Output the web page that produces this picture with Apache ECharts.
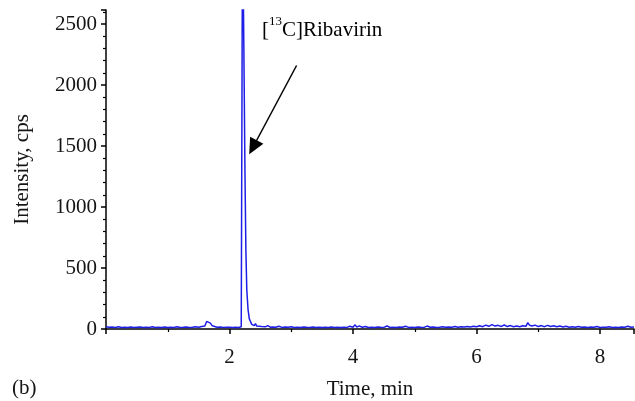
<!DOCTYPE html>
<html>
<head>
<meta charset="utf-8">
<script src="https://cdn.jsdelivr.net/npm/echarts@6/dist/echarts.min.js"></script>
<style>
  html, body { margin: 0; padding: 0; background: #fff; }
  #main { width: 635px; height: 401px; }
</style>
</head>
<body>
<div id="main"></div>
<script>
// retention time (min)
var times = [
  0.00, 0.05, 0.10, 0.15, 0.20, 0.25, 0.30, 0.35, 0.40, 0.45,
  0.50, 0.55, 0.60, 0.65, 0.70, 0.75, 0.80, 0.85, 0.90, 0.95,
  1.00, 1.05, 1.10, 1.15, 1.20, 1.25, 1.30, 1.35, 1.40, 1.45,
  1.50, 1.55, 1.60, 1.63, 1.66, 1.69, 1.72, 1.75, 1.80, 1.85,
  1.90, 1.95, 2.00, 2.05, 2.10, 2.15, 2.18, 2.19, 2.21, 2.225,
  2.235, 2.25, 2.265, 2.28, 2.30, 2.32, 2.34, 2.36, 2.38, 2.40,
  2.42, 2.44, 2.46, 2.48, 2.50, 2.52, 2.55, 2.58, 2.62, 2.66,
  2.70, 2.75, 2.80, 2.85, 2.90, 2.95, 3.00, 3.05, 3.10, 3.15,
  3.20, 3.25, 3.30, 3.35, 3.40, 3.45, 3.50, 3.55, 3.60, 3.65,
  3.70, 3.75, 3.80, 3.85, 3.90, 3.95, 4.00, 4.03, 4.06, 4.10,
  4.15, 4.20, 4.25, 4.30, 4.35, 4.40, 4.45, 4.50, 4.55, 4.60,
  4.65, 4.70, 4.75, 4.80, 4.85, 4.90, 4.95, 5.00, 5.05, 5.10,
  5.15, 5.20, 5.25, 5.30, 5.35, 5.40, 5.45, 5.50, 5.55, 5.60,
  5.65, 5.70, 5.75, 5.80, 5.85, 5.90, 5.95, 6.00, 6.05, 6.10,
  6.15, 6.20, 6.25, 6.30, 6.35, 6.40, 6.45, 6.50, 6.55, 6.60,
  6.65, 6.70, 6.75, 6.80, 6.83, 6.86, 6.90, 6.95, 7.00, 7.05,
  7.10, 7.15, 7.20, 7.25, 7.30, 7.35, 7.40, 7.45, 7.50, 7.55,
  7.60, 7.65, 7.70, 7.75, 7.80, 7.85, 7.90, 7.95, 8.00, 8.05,
  8.10, 8.15, 8.20, 8.25, 8.30, 8.35, 8.40, 8.45, 8.50, 8.55
];

// intensity (cps)
var intensity = [
  18, 14, 16, 13, 18, 12, 15, 13, 17, 12,
  14, 16, 12, 15, 13, 18, 12, 14, 13, 16,
  12, 15, 13, 19, 12, 14, 17, 13, 15, 18,
  14, 20, 24, 62, 68, 48, 26, 18, 14, 16,
  12, 14, 15, 12, 14, 13, 12, 18, 3200, 2700,
  2150, 1300, 650, 320, 160, 85, 60, 38, 52, 28,
  45, 24, 40, 22, 36, 20, 33, 18, 28, 15,
  17, 14, 22, 13, 16, 14, 18, 13, 15, 12,
  16, 14, 13, 17, 12, 15, 13, 14, 12, 16,
  13, 15, 12, 14, 13, 22, 14, 34, 16, 26,
  14, 20, 13, 15, 12, 16, 14, 13, 25, 12,
  15, 13, 16, 14, 22, 13, 15, 12, 16, 14,
  13, 24, 14, 17, 13, 15, 18, 14, 16, 15,
  20, 15, 18, 16, 21, 17, 23, 18, 26, 19,
  32, 22, 36, 24, 30, 21, 33, 20, 28, 19,
  24, 18, 26, 22, 52, 30, 24, 32, 20, 28,
  19, 30, 20, 26, 18, 24, 16, 22, 15, 19,
  14, 21, 15, 17, 13, 16, 14, 20, 13, 15,
  14, 18, 13, 15, 12, 16, 14, 22, 14, 16
];

var yTicks = [0, 500, 1000, 1500, 2000, 2500];
var xTicks = [2, 4, 6, 8];

var seriesData = [];
for (var i = 0; i < times.length; i++) {
    seriesData.push([times[i], intensity[i]]);
}

var serif = '"Liberation Serif", "DejaVu Serif", serif';
var ink = '#151515';

var myChart = echarts.init(document.getElementById('main'));
var option = {
    animation: false,
    backgroundColor: '#fff',
    grid: {
        left: 106,
        right: 1,
        top: 10,
        bottom: 72,
        containLabel: false,
        outerBoundsMode: 'none'
    },
    xAxis: {
        type: 'value',
        min: 0,
        max: 8.55,
        interval: 2,
        name: 'Time, min',
        nameLocation: 'middle',
        nameGap: 50,
        nameTextStyle: { fontFamily: serif, fontSize: 21, color: ink },
        axisLine: { lineStyle: { color: '#000', width: 1.5 } },
        axisTick: { show: true, length: 5, lineStyle: { color: '#000', width: 1.5 } },
        minorTick: { show: true, splitNumber: 2, length: 3, lineStyle: { color: '#000', width: 1.2 } },
        splitLine: { show: false },
        axisLabel: {
            fontFamily: serif, fontSize: 21, color: ink, margin: 18,
            showMinLabel: false, showMaxLabel: false,
            formatter: function (v) { return xTicks.indexOf(v) >= 0 ? String(v) : ''; }
        }
    },
    yAxis: {
        type: 'value',
        min: 0,
        max: 2615,
        interval: 500,
        name: 'Intensity, cps',
        nameLocation: 'middle',
        nameGap: 73,
        nameTextStyle: { fontFamily: serif, fontSize: 21, color: ink },
        axisLine: { show: true, lineStyle: { color: '#000', width: 1.5 } },
        axisTick: { show: true, length: 5, lineStyle: { color: '#000', width: 1.5 } },
        minorTick: { show: true, splitNumber: 5, length: 3, lineStyle: { color: '#000', width: 1.2 } },
        splitLine: { show: false },
        axisLabel: {
            fontFamily: serif, fontSize: 21, color: ink, margin: 9,
            showMaxLabel: false,
            formatter: function (v) { return yTicks.indexOf(v) >= 0 ? String(v) : ''; }
        }
    },
    series: [
        {
            type: 'line',
            data: seriesData,
            symbol: 'none',
            clip: true,
            lineStyle: { color: '#1e1ee8', width: 1.5 },
            markLine: {
                silent: true,
                symbol: ['none', 'triangle'],
                symbolSize: [15, 16],
                label: { show: false },
                itemStyle: { color: '#000' },
                lineStyle: { color: '#000', width: 1.5, type: 'solid' },
                data: [
                    [{ coord: [3.086, 2160] }, { coord: [2.38, 1490] }]
                ]
            }
        }
    ],
    graphic: [
        {
            type: 'text',
            left: 262,
            top: 15,
            style: {
                text: '{b|[}{s|13}{b|C]Ribavirin}',
                rich: {
                    b: { fontFamily: serif, fontSize: 21, color: ink, lineHeight: 26, verticalAlign: 'bottom' },
                    s: { fontFamily: serif, fontSize: 13, color: ink, lineHeight: 26, verticalAlign: 'top' }
                }
            }
        },
        {
            type: 'text',
            left: 12,
            top: 378,
            style: { text: '(b)', fontFamily: serif, fontSize: 21, fill: ink }
        }
    ]
};

myChart.setOption(option);
</script>
</body>
</html>
